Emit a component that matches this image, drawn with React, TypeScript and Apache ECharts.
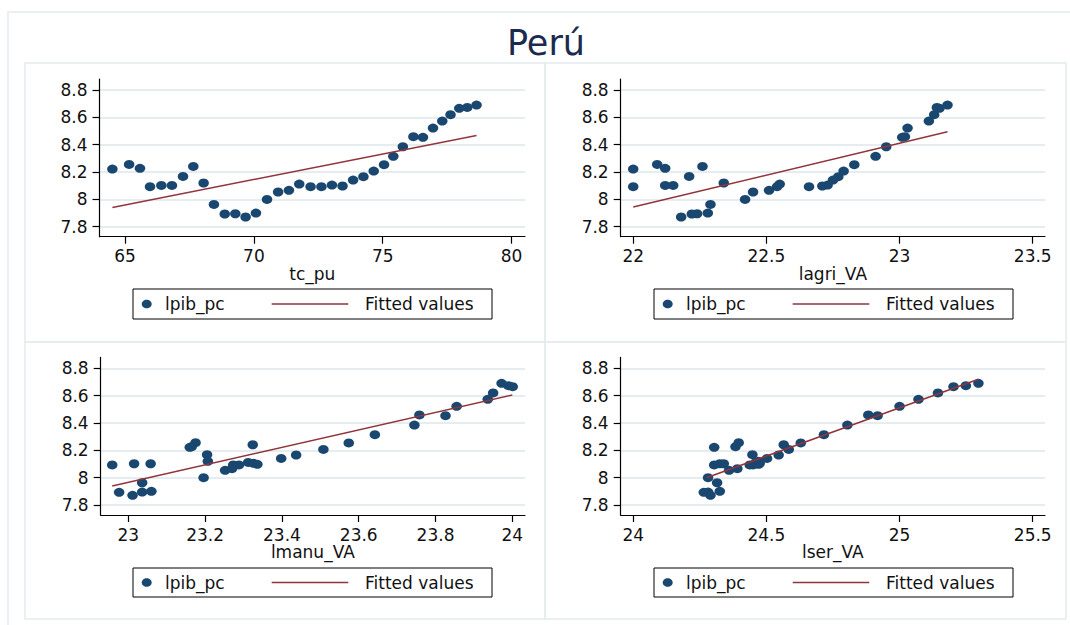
import React, { useEffect, useRef } from "react";
import * as echarts from "echarts";

// lpib_pc (shared y variable), one value per observation
const yLpibPc = [8.222, 8.256, 8.227, 8.093, 8.102, 8.102, 8.168, 8.241, 8.120, 7.963, 7.893, 7.895, 7.871, 7.900, 8.000, 8.054, 8.066, 8.112, 8.093, 8.093, 8.105, 8.098, 8.141, 8.166, 8.207, 8.254, 8.315, 8.385, 8.459, 8.454, 8.522, 8.573, 8.620, 8.666, 8.673, 8.690];

const xTcPu = [64.51, 65.16, 65.58, 65.97, 66.41, 66.82, 67.25, 67.65, 68.05, 68.45, 68.87, 69.28, 69.68, 70.08, 70.51, 70.94, 71.36, 71.76, 72.20, 72.62, 73.03, 73.44, 73.85, 74.25, 74.65, 75.05, 75.41, 75.78, 76.19, 76.56, 76.95, 77.31, 77.63, 77.97, 78.28, 78.64];
const xLagriVA = [22.00, 22.09, 22.12, 22.00, 22.12, 22.15, 22.21, 22.26, 22.34, 22.29, 22.22, 22.24, 22.18, 22.28, 22.42, 22.45, 22.51, 22.55, 22.54, 22.66, 22.73, 22.71, 22.75, 22.77, 22.79, 22.83, 22.91, 22.95, 23.02, 23.01, 23.03, 23.11, 23.13, 23.15, 23.14, 23.18];
const xLmanuVA = [23.16, 23.175, 23.165, 22.958, 23.015, 23.058, 23.205, 23.324, 23.207, 23.036, 22.976, 23.036, 23.011, 23.060, 23.196, 23.252, 23.27, 23.312, 23.288, 23.273, 23.326, 23.336, 23.398, 23.437, 23.508, 23.574, 23.642, 23.745, 23.758, 23.826, 23.855, 23.936, 23.95, 24.001, 23.99, 23.972];
const xLserVA = [24.304, 24.396, 24.384, 24.304, 24.325, 24.34, 24.4475, 24.565, 24.47, 24.315, 24.265, 24.281, 24.29, 24.325, 24.281, 24.36, 24.391, 24.46, 24.4375, 24.45, 24.475, 24.471, 24.5025, 24.546, 24.584, 24.629, 24.716, 24.804, 24.8825, 24.9175, 25.0, 25.071, 25.144, 25.2025, 25.249, 25.296];

// fitted values (end points of each regression line)
const fitTcPu = [[64.51, 7.941], [78.64, 8.468]];
const fitLagriVA = [[22.0, 7.944], [23.18, 8.495]];
const fitLmanuVA = [[22.958, 7.939], [24.0, 8.605]];
const fitLserVA = [[24.275, 8.0], [25.296, 8.72]];

// tick labels
const ticksY = [7.8, 8, 8.2, 8.4, 8.6, 8.8];
const ticksTcPu = [65, 70, 75, 80];
const ticksLagriVA = [22, 22.5, 23, 23.5];
const ticksLmanuVA = [23, 23.2, 23.4, 23.6, 23.8, 24];
const ticksLserVA = [24, 24.5, 25, 25.5];

const xNames = ["tc_pu", "lagri_VA", "lmanu_VA", "lser_VA"];
const legendNames = ["lpib_pc", "Fitted values"];
const titleText = "Perú";

const FONT = "DejaVu Sans";
const NAVY = "#1a476f";
const MAROON = "#90353b";
const GRIDC = "#e6edf0";

export default function App() {
  const ref = useRef<HTMLDivElement>(null);
  useEffect(() => {
    if (!ref.current) return;
    const chart = echarts.init(ref.current, undefined, { renderer: "svg" });

    const panels = [
      { xs: xTcPu, fit: fitTcPu, ticks: ticksTcPu, min: 64.01, max: 80.52, left: 99.5, top: 79.1, width: 425.5 },
      { xs: xLagriVA, fit: fitLagriVA, ticks: ticksLagriVA, min: 21.953, max: 23.546, left: 620.7, top: 79.1, width: 424.3 },
      { xs: xLmanuVA, fit: fitLmanuVA, ticks: ticksLmanuVA, min: 22.928, max: 24.033, left: 100.7, top: 357.4, width: 424.3 },
      { xs: xLserVA, fit: fitLserVA, ticks: ticksLserVA, min: 23.953, max: 25.546, left: 620.7, top: 357.4, width: 424.3 },
    ];
    const gridH = 157.6;
    const yMin = 7.727;
    const yMax = 8.88;

    const grid = panels.map((p) => ({ left: p.left, top: p.top, width: p.width, height: gridH }));
    const xAxis = panels.map((p, i) => ({
      type: "value",
      gridIndex: i,
      min: p.min,
      max: p.max,
      name: xNames[i],
      nameLocation: "middle",
      nameGap: 25,
      nameTextStyle: { fontFamily: FONT, fontSize: 17, color: "#111" },
      axisLine: { show: true, onZero: false, lineStyle: { color: "#000", width: 1.2 } },
      axisTick: { show: true, length: 7, customValues: p.ticks, lineStyle: { color: "#000", width: 1.2 } },
      axisLabel: { customValues: p.ticks, margin: 11, fontFamily: FONT, fontSize: 17, color: "#111" },
      splitLine: { show: false },
    }));
    const yAxis = panels.map((p, i) => ({
      type: "value",
      gridIndex: i,
      min: yMin,
      max: yMax,
      axisLine: { show: true, onZero: false, lineStyle: { color: "#000", width: 1.2 } },
      axisTick: { show: true, length: 7, customValues: ticksY, lineStyle: { color: "#000", width: 1.2 } },
      axisLabel: { customValues: ticksY, margin: 12, fontFamily: FONT, fontSize: 17, color: "#111" },
      splitLine: { show: true, lineStyle: { color: GRIDC, width: 1.8 } },
    }));
    const series: any[] = [];
    panels.forEach((p, i) => {
      series.push({
        type: "scatter",
        name: legendNames[0],
        xAxisIndex: i,
        yAxisIndex: i,
        data: p.xs.map((x, k) => [x, yLpibPc[k]]),
        symbol: "circle",
        symbolSize: [10.5, 9],
        itemStyle: { color: NAVY, opacity: 1 },
        z: 3,
      });
      series.push({
        type: "line",
        name: legendNames[1],
        xAxisIndex: i,
        yAxisIndex: i,
        data: p.fit,
        symbol: "none",
        showSymbol: false,
        lineStyle: { color: MAROON, width: 1.5 },
        z: 4,
      });
    });

    const legendBoxes = [
      { x: 133, y: 289, h: 30 },
      { x: 654, y: 289, h: 30 },
      { x: 133, y: 568, h: 29 },
      { x: 654, y: 568, h: 29 },
    ];
    const legendGraphics = legendBoxes.map((b) => {
      const cy = b.h / 2;
      return {
        type: "group",
        x: b.x,
        y: b.y,
        children: [
          { type: "rect", shape: { x: 0, y: 0, width: 359, height: b.h }, style: { fill: "#fff", stroke: "#000", lineWidth: 1 } },
          { type: "ellipse", shape: { cx: 13.7, cy, rx: 5, ry: 4.3 }, style: { fill: NAVY } },
          { type: "text", x: 32, y: cy, style: { text: legendNames[0], fontFamily: FONT, fontSize: 17, fill: "#111", verticalAlign: "middle", align: "left" } },
          { type: "line", shape: { x1: 138.7, y1: cy, x2: 215.3, y2: cy }, style: { stroke: MAROON, lineWidth: 1.5 } },
          { type: "text", x: 232, y: cy, style: { text: legendNames[1], fontFamily: FONT, fontSize: 17, fill: "#111", verticalAlign: "middle", align: "left" } },
        ],
      };
    });

    const frameStyle = { fill: "none", stroke: "#e4ebee", lineWidth: 1.5 };
    const option: any = {
      animation: false,
      backgroundColor: "#fff",
      grid,
      xAxis,
      yAxis,
      series,
      graphic: [
        { type: "rect", shape: { x: 8, y: 12, width: 1070, height: 620 }, style: frameStyle, z: -10 },
        { type: "rect", shape: { x: 25, y: 63, width: 520, height: 279 }, style: frameStyle, z: -10 },
        { type: "rect", shape: { x: 545, y: 63, width: 521, height: 279 }, style: frameStyle, z: -10 },
        { type: "rect", shape: { x: 25, y: 342, width: 520, height: 277 }, style: frameStyle, z: -10 },
        { type: "rect", shape: { x: 545, y: 342, width: 521, height: 277 }, style: frameStyle, z: -10 },
        { type: "text", x: 546, y: 42.5, style: { text: titleText, fontFamily: FONT, fontSize: 35, fill: "#1c2a4e", align: "center", verticalAlign: "middle" } },
        ...legendGraphics,
      ],
    };
    chart.setOption(option);
    return () => chart.dispose();
  }, []);
  return <div ref={ref} style={{ position: "fixed", left: 0, top: 0, width: 1070, height: 625, background: "#fff" }} />;
}
